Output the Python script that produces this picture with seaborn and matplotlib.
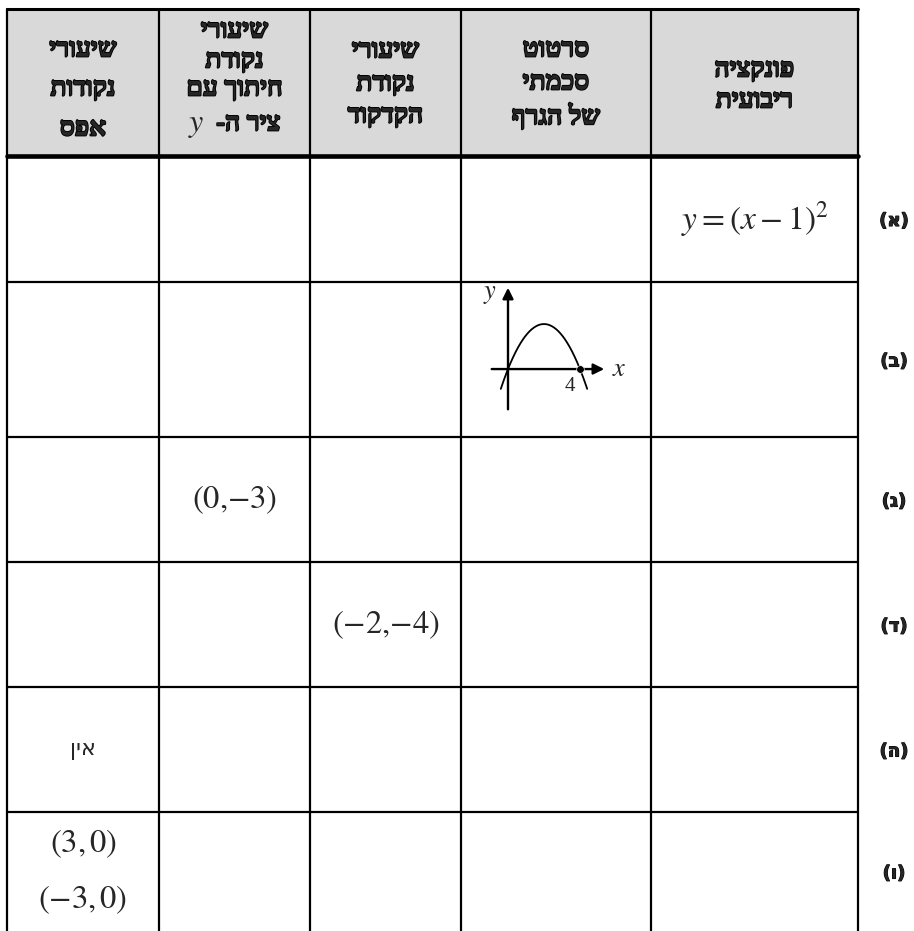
import numpy as np
import matplotlib.pyplot as plt
import matplotlib.patheffects as pe
import seaborn as sns

sns.set_style("white")
plt.rcParams['font.family'] = ['DejaVu Sans', 'Liberation Sans']
plt.rcParams['mathtext.fontset'] = 'stix'

# table layout (pixels)
col_edges = [7, 159, 310, 461, 651, 858]
row_edges = [9, 156, 282, 437, 562, 687, 812, 931]

# header text, one list per column (left to right as drawn)
headers = [
    ["שיעורי", "נקודות", "אפס"],
    ["שיעורי", "נקודת", "חיתוך עם", "ציר ה-"],
    ["שיעורי", "נקודת", "הקדקוד"],
    ["סרטוט", "סכמתי", "של הגרף"],
    ["פונקציה", "ריבועית"],
]
header_y = [
    [50, 89, 129],
    [31, 61, 89, 124],
    [51, 84, 116],
    [50, 83, 116],
    [70, 101],
]
row_labels = ["(א)", "(ב)", "(ג)", "(ד)", "(ה)", "(ו)"]

# cell contents: (row, col, text lines)
cells = [
    (0, 4, [r"$y = (x-1)^2$"]),
    (2, 1, [r"$(0{,}{-}3)$"]),
    (3, 2, [r"$({-}2{,}{-}4)$"]),
    (5, 0, [r"$(3{,}\,0)$", r"$({-}3{,}\,0)$"]),
]
hebrew_cells = [(4, 0, "אין")]

# sketch of the parabola in row (ב)
roots = [0, 4]
vertex_height = 2.5


def vis(s):
    # matplotlib has no bidi, so flip hebrew to visual order
    return s[::-1]


heavy = [pe.withStroke(linewidth=1.3, foreground='black')]
head_font = ['Liberation Serif', 'DejaVu Serif']

fig = plt.figure(figsize=(9.14, 9.31), dpi=100)
ax = fig.add_axes([0, 0, 1, 1])
ax.set_xlim(0, 914)
ax.set_ylim(931, 0)
ax.axis('off')

# header background
ax.fill_between([col_edges[0], col_edges[-1]], row_edges[0], row_edges[1],
                color='#d9d9d9', zorder=0)

# grid lines
for x in col_edges:
    ax.plot([x, x], [row_edges[0], row_edges[-1]], color='black', lw=1.6, zorder=2)
ax.plot([col_edges[0], col_edges[-1]], [row_edges[0]] * 2, color='black', lw=2.2, zorder=2)
ax.plot([col_edges[0], col_edges[-1]], [row_edges[1]] * 2, color='black', lw=3.3, zorder=2)
for y in row_edges[2:-1]:
    ax.plot([col_edges[0], col_edges[-1]], [y, y], color='black', lw=1.6, zorder=2)

# header text
for c, lines in enumerate(headers):
    cx = (col_edges[c] + col_edges[c + 1]) / 2
    for txt, y in zip(lines, header_y[c]):
        if txt == "ציר ה-":
            ax.text(cx + 14, y, vis(txt), ha='center', va='center', family=head_font,
                    fontsize=19, fontweight='bold', path_effects=heavy)
            ax.text(cx - 38, y, r"$y$", ha='center', va='center', fontsize=23)
        else:
            ax.text(cx, y, vis(txt), ha='center', va='center', family=head_font,
                    fontsize=19, fontweight='bold', path_effects=heavy)

# row labels
for r, lab in enumerate(row_labels):
    cy = (row_edges[r + 1] + row_edges[r + 2]) / 2 + 2
    ax.text(894, cy, lab, ha='center', va='center', fontsize=13,
            fontweight='bold', path_effects=[pe.withStroke(linewidth=0.8, foreground='black')])

# math cells
for r, c, lines in cells:
    cx = (col_edges[c] + col_edges[c + 1]) / 2
    cy = (row_edges[r + 1] + row_edges[r + 2]) / 2
    offs = np.arange(len(lines)) - (len(lines) - 1) / 2
    size = 24 if r == 0 else 23.5
    for txt, o in zip(lines, offs):
        ax.text(cx, cy + o * 55, txt, ha='center', va='center', fontsize=size)

for r, c, txt in hebrew_cells:
    cx = (col_edges[c] + col_edges[c + 1]) / 2
    cy = (row_edges[r + 1] + row_edges[r + 2]) / 2
    ax.text(cx, cy, vis(txt), ha='center', va='center', fontsize=16)

# inset sketch
sx = fig.add_axes([480 / 914, 1 - 420 / 931, 150 / 914, 137 / 931])
sx.set_xlim(-1.556, 6.78)
sx.set_ylim(-2.83, 4.78)
sx.axis('off')
xs = np.linspace(roots[0] - 0.4, roots[1] + 0.4, 200)
a = vertex_height / ((roots[1] - roots[0]) / 2) ** 2
ys = -a * (xs - roots[0]) * (xs - roots[1])
sns.lineplot(x=xs, y=ys, ax=sx, color='black', lw=1.3, sort=False)
sns.scatterplot(x=[roots[1]], y=[0], ax=sx, color='black', s=30, zorder=5)
arrow = dict(arrowstyle='-|>', lw=1.7, mutation_scale=16, color='black')
sx.annotate('', xy=(5.5, 0), xytext=(-1.06, 0), arrowprops=arrow)
sx.annotate('', xy=(0, 4.67), xytext=(0, -2.39), arrowprops=arrow)
sx.text(-1.0, 4.2, r"$y$", ha='center', va='center', fontsize=19)
sx.text(6.2, 0, r"$x$", ha='center', va='center', fontsize=19)
sx.text(3.45, -0.95, "4", ha='center', va='center', fontsize=15, family='Liberation Serif')

fig.savefig('out.png', dpi=100)
